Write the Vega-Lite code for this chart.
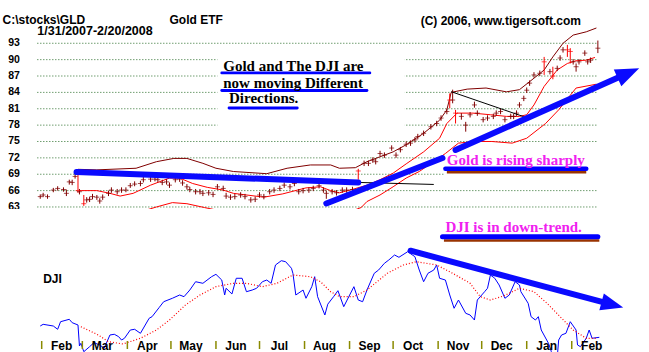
{
"$schema": "https://vega.github.io/schema/vega-lite/v6.json",
"background": "white",
"padding": 0,
"spacing": 0,
"bounds": "flush",
"config": {"view": {"stroke": null}, "font": "Liberation Sans"},
"datasets": {
"grid": [{"level":63},{"level":66},{"level":69},{"level":72},{"level":75},{"level":78},{"level":81},{"level":84},{"level":87},{"level":90},{"level":93}],
"months": [{"start":"2007-02-01","label":"Feb"},{"start":"2007-03-01","label":"Mar"},{"start":"2007-04-01","label":"Apr"},{"start":"2007-05-01","label":"May"},{"start":"2007-06-01","label":"Jun"},{"start":"2007-07-01","label":"Jul"},{"start":"2007-08-01","label":"Aug"},{"start":"2007-09-01","label":"Sep"},{"start":"2007-10-01","label":"Oct"},{"start":"2007-11-01","label":"Nov"},{"start":"2007-12-01","label":"Dec"},{"start":"2008-01-01","label":"Jan"},{"start":"2008-02-01","label":"Feb"}],
"boxes": [{"start":"2007-06-02","end":"2007-10-09","top":90.9,"bottom":77.5},{"start":"2007-11-05","end":"2008-02-19","top":72.8,"bottom":68.5}],
"bands": [
{"band":"upper","date":"2007-02-26","value":69.9},{"band":"upper","date":"2007-03-11","value":69.8},{"band":"upper","date":"2007-04-07","value":70.1},{"band":"upper","date":"2007-04-21","value":71.3},{"band":"upper","date":"2007-05-03","value":71.9},{"band":"upper","date":"2007-05-12","value":71.9},{"band":"upper","date":"2007-05-23","value":71.0},{"band":"upper","date":"2007-06-01","value":70.1},{"band":"upper","date":"2007-06-13","value":69.5},{"band":"upper","date":"2007-07-06","value":69.1},{"band":"upper","date":"2007-07-20","value":70.1},{"band":"upper","date":"2007-08-05","value":70.7},{"band":"upper","date":"2007-08-19","value":70.7},{"band":"upper","date":"2007-08-25","value":70.1},{"band":"upper","date":"2007-09-05","value":70.2},{"band":"upper","date":"2007-09-13","value":71.3},{"band":"upper","date":"2007-09-22","value":72.2},{"band":"upper","date":"2007-10-01","value":73.1},{"band":"upper","date":"2007-10-10","value":74.4},{"band":"upper","date":"2007-10-22","value":76.5},{"band":"upper","date":"2007-11-02","value":78.9},{"band":"upper","date":"2007-11-07","value":80.8},{"band":"upper","date":"2007-11-10","value":84.0},{"band":"upper","date":"2007-11-21","value":84.6},{"band":"upper","date":"2007-12-04","value":84.8},{"band":"upper","date":"2007-12-18","value":84.1},{"band":"upper","date":"2007-12-27","value":84.5},{"band":"upper","date":"2008-01-06","value":86.6},{"band":"upper","date":"2008-01-13","value":88.1},{"band":"upper","date":"2008-01-19","value":90.5},{"band":"upper","date":"2008-01-26","value":93.0},{"band":"upper","date":"2008-02-02","value":94.5},{"band":"upper","date":"2008-02-11","value":95.1},{"band":"upper","date":"2008-02-18","value":95.8},
{"band":"middle","date":"2007-02-27","value":66.0},{"band":"middle","date":"2007-03-11","value":66.0},{"band":"middle","date":"2007-03-20","value":65.5},{"band":"middle","date":"2007-03-27","value":65.0},{"band":"middle","date":"2007-04-05","value":65.5},{"band":"middle","date":"2007-04-17","value":67.0},{"band":"middle","date":"2007-04-30","value":68.3},{"band":"middle","date":"2007-05-07","value":68.3},{"band":"middle","date":"2007-05-16","value":67.3},{"band":"middle","date":"2007-05-26","value":66.6},{"band":"middle","date":"2007-06-06","value":66.1},{"band":"middle","date":"2007-06-13","value":65.5},{"band":"middle","date":"2007-07-04","value":64.8},{"band":"middle","date":"2007-07-17","value":65.4},{"band":"middle","date":"2007-08-02","value":66.5},{"band":"middle","date":"2007-08-12","value":66.7},{"band":"middle","date":"2007-08-19","value":66.0},{"band":"middle","date":"2007-08-25","value":65.6},{"band":"middle","date":"2007-09-04","value":66.3},{"band":"middle","date":"2007-09-13","value":67.0},{"band":"middle","date":"2007-09-22","value":68.0},{"band":"middle","date":"2007-10-01","value":69.2},{"band":"middle","date":"2007-10-10","value":70.9},{"band":"middle","date":"2007-10-22","value":73.1},{"band":"middle","date":"2007-11-02","value":75.6},{"band":"middle","date":"2007-11-07","value":78.3},{"band":"middle","date":"2007-11-14","value":80.2},{"band":"middle","date":"2007-11-25","value":80.2},{"band":"middle","date":"2007-12-07","value":79.9},{"band":"middle","date":"2007-12-18","value":79.6},{"band":"middle","date":"2007-12-27","value":79.6},{"band":"middle","date":"2008-01-01","value":79.9},{"band":"middle","date":"2008-01-06","value":81.7},{"band":"middle","date":"2008-01-13","value":85.1},{"band":"middle","date":"2008-01-22","value":88.1},{"band":"middle","date":"2008-01-29","value":89.3},{"band":"middle","date":"2008-02-04","value":89.8},{"band":"middle","date":"2008-02-11","value":89.9},{"band":"middle","date":"2008-02-17","value":90.4},
{"band":"lower","date":"2007-02-27","value":62.0},{"band":"lower","date":"2007-03-20","value":61.5},{"band":"lower","date":"2007-04-05","value":61.7},{"band":"lower","date":"2007-04-21","value":63.0},{"band":"lower","date":"2007-05-02","value":63.8},{"band":"lower","date":"2007-05-12","value":63.6},{"band":"lower","date":"2007-05-24","value":62.9},{"band":"lower","date":"2007-06-13","value":61.8},{"band":"lower","date":"2007-07-04","value":61.1},{"band":"lower","date":"2007-07-18","value":61.5},{"band":"lower","date":"2007-08-03","value":62.4},{"band":"lower","date":"2007-08-19","value":62.2},{"band":"lower","date":"2007-08-26","value":61.9},{"band":"lower","date":"2007-09-05","value":62.5},{"band":"lower","date":"2007-09-09","value":62.9},{"band":"lower","date":"2007-09-13","value":64.0},{"band":"lower","date":"2007-09-22","value":65.2},{"band":"lower","date":"2007-10-01","value":66.7},{"band":"lower","date":"2007-10-10","value":68.3},{"band":"lower","date":"2007-10-19","value":69.5},{"band":"lower","date":"2007-11-06","value":72.8},{"band":"lower","date":"2007-11-15","value":74.7},{"band":"lower","date":"2007-11-26","value":75.0},{"band":"lower","date":"2007-12-08","value":75.0},{"band":"lower","date":"2007-12-22","value":74.7},{"band":"lower","date":"2008-01-01","value":75.6},{"band":"lower","date":"2008-01-14","value":78.3},{"band":"lower","date":"2008-01-23","value":80.8},{"band":"lower","date":"2008-02-04","value":84.8},{"band":"lower","date":"2008-02-18","value":85.5}
],
"gld": [
{"date":"2007-01-31","high":65.3,"low":64.5,"close":64.9,"flag":0},{"date":"2007-02-02","high":65.6,"low":64.8,"close":65.2,"flag":0},{"date":"2007-02-05","high":65.3,"low":64.5,"close":64.9,"flag":0},{"date":"2007-02-09","high":66.5,"low":65.7,"close":66.1,"flag":0},{"date":"2007-02-12","high":66.8,"low":66.0,"close":66.4,"flag":0},{"date":"2007-02-16","high":66.6,"low":65.8,"close":66.2,"flag":0},{"date":"2007-02-18","high":66.2,"low":65.0,"close":65.5,"flag":0},{"date":"2007-02-20","high":68.0,"low":67.1,"close":67.6,"flag":0},{"date":"2007-02-22","high":68.0,"low":67.0,"close":67.5,"flag":0},{"date":"2007-02-24","high":69.3,"low":68.2,"close":68.6,"flag":0},{"date":"2007-02-26","high":69.9,"low":65.6,"close":66.0,"flag":1},{"date":"2007-02-27","high":66.3,"low":65.3,"close":65.8,"flag":0},
{"date":"2007-03-02","high":65.2,"low":63.2,"close":63.6,"flag":1},{"date":"2007-03-04","high":64.8,"low":63.8,"close":64.3,"flag":0},{"date":"2007-03-06","high":64.9,"low":63.9,"close":64.4,"flag":0},{"date":"2007-03-08","high":65.4,"low":64.4,"close":64.9,"flag":0},{"date":"2007-03-11","high":65.2,"low":64.3,"close":64.8,"flag":0},{"date":"2007-03-13","high":64.6,"low":63.6,"close":64.1,"flag":0},{"date":"2007-03-15","high":65.3,"low":64.3,"close":64.8,"flag":0},{"date":"2007-03-19","high":66.0,"low":65.0,"close":65.5,"flag":0},{"date":"2007-03-21","high":66.6,"low":65.6,"close":66.1,"flag":0},{"date":"2007-03-25","high":66.3,"low":65.3,"close":65.8,"flag":0},{"date":"2007-03-28","high":66.6,"low":65.6,"close":66.1,"flag":0},{"date":"2007-03-31","high":66.6,"low":65.7,"close":66.1,"flag":0},
{"date":"2007-04-03","high":67.4,"low":66.5,"close":66.9,"flag":0},{"date":"2007-04-06","high":67.7,"low":66.8,"close":67.2,"flag":0},{"date":"2007-04-10","high":67.8,"low":66.8,"close":67.3,"flag":0},{"date":"2007-04-12","high":68.5,"low":67.5,"close":68.0,"flag":0},{"date":"2007-04-17","high":68.6,"low":67.6,"close":68.1,"flag":0},{"date":"2007-04-20","high":68.6,"low":67.7,"close":68.1,"flag":0},{"date":"2007-04-22","high":68.5,"low":67.5,"close":68.0,"flag":0},{"date":"2007-04-25","high":68.0,"low":67.0,"close":67.5,"flag":0},{"date":"2007-04-28","high":68.1,"low":67.1,"close":67.6,"flag":0},{"date":"2007-04-30","high":67.5,"low":66.5,"close":67.0,"flag":0},
{"date":"2007-05-04","high":68.5,"low":67.5,"close":68.0,"flag":0},{"date":"2007-05-07","high":68.6,"low":67.6,"close":68.1,"flag":0},{"date":"2007-05-09","high":67.9,"low":66.9,"close":67.4,"flag":0},{"date":"2007-05-12","high":67.2,"low":66.2,"close":66.7,"flag":0},{"date":"2007-05-14","high":66.7,"low":65.7,"close":66.2,"flag":0},{"date":"2007-05-18","high":66.3,"low":65.3,"close":65.8,"flag":0},{"date":"2007-05-21","high":66.3,"low":65.3,"close":65.8,"flag":0},{"date":"2007-05-23","high":66.0,"low":65.0,"close":65.5,"flag":0},{"date":"2007-05-27","high":66.1,"low":65.1,"close":65.6,"flag":0},{"date":"2007-05-30","high":65.8,"low":64.8,"close":65.3,"flag":0},
{"date":"2007-06-02","high":67.2,"low":66.2,"close":66.7,"flag":0},{"date":"2007-06-06","high":66.9,"low":65.9,"close":66.4,"flag":0},{"date":"2007-06-08","high":65.6,"low":64.5,"close":65.0,"flag":0},{"date":"2007-06-11","high":65.3,"low":64.3,"close":64.8,"flag":0},{"date":"2007-06-14","high":65.4,"low":64.4,"close":64.9,"flag":0},{"date":"2007-06-18","high":65.7,"low":64.7,"close":65.2,"flag":0},{"date":"2007-06-21","high":65.4,"low":64.4,"close":64.9,"flag":0},{"date":"2007-06-25","high":64.8,"low":63.8,"close":64.3,"flag":0},{"date":"2007-06-28","high":64.9,"low":63.9,"close":64.4,"flag":0},
{"date":"2007-07-01","high":65.7,"low":64.7,"close":65.2,"flag":0},{"date":"2007-07-04","high":65.4,"low":64.4,"close":64.9,"flag":0},{"date":"2007-07-08","high":66.3,"low":65.3,"close":65.8,"flag":0},{"date":"2007-07-11","high":66.6,"low":65.6,"close":66.1,"flag":0},{"date":"2007-07-15","high":66.9,"low":65.9,"close":66.4,"flag":0},{"date":"2007-07-18","high":67.5,"low":66.5,"close":67.0,"flag":0},{"date":"2007-07-22","high":67.2,"low":66.2,"close":66.7,"flag":0},{"date":"2007-07-25","high":67.8,"low":66.8,"close":67.3,"flag":0},{"date":"2007-07-28","high":66.3,"low":65.3,"close":65.8,"flag":0},{"date":"2007-07-31","high":66.5,"low":65.5,"close":66.0,"flag":0},
{"date":"2007-08-04","high":66.6,"low":65.6,"close":66.1,"flag":0},{"date":"2007-08-07","high":66.9,"low":65.9,"close":66.4,"flag":0},{"date":"2007-08-11","high":67.4,"low":66.4,"close":66.9,"flag":0},{"date":"2007-08-14","high":66.6,"low":65.6,"close":66.1,"flag":0},{"date":"2007-08-16","high":66.0,"low":64.5,"close":65.5,"flag":0},{"date":"2007-08-20","high":66.3,"low":65.3,"close":65.8,"flag":0},{"date":"2007-08-23","high":66.1,"low":65.1,"close":65.6,"flag":0},{"date":"2007-08-27","high":66.6,"low":65.6,"close":66.1,"flag":0},{"date":"2007-08-30","high":66.6,"low":65.6,"close":66.1,"flag":0},
{"date":"2007-09-03","high":66.7,"low":65.7,"close":66.2,"flag":0},{"date":"2007-09-07","high":70.0,"low":68.0,"close":69.6,"flag":1},{"date":"2007-09-11","high":71.5,"low":70.5,"close":71.0,"flag":0},{"date":"2007-09-14","high":71.5,"low":70.5,"close":71.0,"flag":0},{"date":"2007-09-17","high":72.1,"low":71.1,"close":71.6,"flag":0},{"date":"2007-09-19","high":71.8,"low":70.8,"close":71.3,"flag":0},{"date":"2007-09-22","high":73.3,"low":72.3,"close":72.8,"flag":0},{"date":"2007-09-25","high":73.0,"low":72.0,"close":72.5,"flag":0},{"date":"2007-09-30","high":74.3,"low":73.3,"close":73.8,"flag":0},
{"date":"2007-10-03","high":73.0,"low":72.0,"close":72.5,"flag":0},{"date":"2007-10-06","high":74.0,"low":73.0,"close":73.5,"flag":0},{"date":"2007-10-10","high":75.0,"low":74.0,"close":74.5,"flag":0},{"date":"2007-10-13","high":75.2,"low":74.2,"close":74.7,"flag":0},{"date":"2007-10-16","high":75.8,"low":74.8,"close":75.3,"flag":0},{"date":"2007-10-18","high":76.4,"low":75.4,"close":75.9,"flag":0},{"date":"2007-10-22","high":77.0,"low":76.0,"close":76.5,"flag":0},{"date":"2007-10-27","high":78.2,"low":77.2,"close":77.7,"flag":0},{"date":"2007-10-31","high":78.8,"low":77.8,"close":78.3,"flag":0},
{"date":"2007-11-03","high":79.8,"low":78.8,"close":79.3,"flag":0},{"date":"2007-11-07","high":81.0,"low":80.0,"close":80.5,"flag":0},{"date":"2007-11-09","high":83.8,"low":81.1,"close":82.6,"flag":1},{"date":"2007-11-11","high":84.5,"low":82.0,"close":82.6,"flag":0},{"date":"2007-11-13","high":80.8,"low":78.3,"close":80.2,"flag":1},{"date":"2007-11-17","high":80.2,"low":79.0,"close":79.6,"flag":0},{"date":"2007-11-20","high":78.6,"low":76.8,"close":78.0,"flag":0},{"date":"2007-11-23","high":80.4,"low":79.4,"close":79.9,"flag":0},{"date":"2007-11-26","high":82.3,"low":81.2,"close":81.7,"flag":0},{"date":"2007-11-28","high":80.7,"low":79.7,"close":80.2,"flag":0},
{"date":"2007-12-02","high":79.5,"low":78.5,"close":79.0,"flag":0},{"date":"2007-12-05","high":79.8,"low":78.8,"close":79.3,"flag":0},{"date":"2007-12-09","high":80.1,"low":79.1,"close":79.6,"flag":0},{"date":"2007-12-11","high":80.7,"low":79.7,"close":80.2,"flag":0},{"date":"2007-12-14","high":81.0,"low":80.0,"close":80.5,"flag":0},{"date":"2007-12-17","high":79.5,"low":78.5,"close":79.0,"flag":0},{"date":"2007-12-21","high":80.1,"low":79.1,"close":79.6,"flag":0},{"date":"2007-12-23","high":80.1,"low":79.1,"close":79.6,"flag":0},{"date":"2007-12-25","high":80.7,"low":79.7,"close":80.2,"flag":0},{"date":"2007-12-27","high":82.2,"low":81.2,"close":81.7,"flag":0},{"date":"2007-12-30","high":83.4,"low":82.4,"close":82.9,"flag":0},
{"date":"2008-01-01","high":84.9,"low":83.9,"close":84.4,"flag":0},{"date":"2008-01-03","high":86.2,"low":85.2,"close":85.7,"flag":0},{"date":"2008-01-06","high":87.7,"low":86.7,"close":87.2,"flag":0},{"date":"2008-01-10","high":88.0,"low":87.0,"close":87.5,"flag":0},{"date":"2008-01-13","high":90.5,"low":87.2,"close":89.6,"flag":1},{"date":"2008-01-17","high":88.3,"low":87.3,"close":87.8,"flag":0},{"date":"2008-01-19","high":88.7,"low":86.4,"close":87.0,"flag":1},{"date":"2008-01-22","high":88.9,"low":87.9,"close":88.4,"flag":0},{"date":"2008-01-24","high":90.8,"low":89.8,"close":90.3,"flag":0},{"date":"2008-01-26","high":92.3,"low":91.3,"close":91.8,"flag":0},{"date":"2008-01-29","high":92.7,"low":90.5,"close":91.8,"flag":1},{"date":"2008-01-31","high":92.1,"low":89.3,"close":91.5,"flag":1},
{"date":"2008-02-02","high":90.1,"low":89.1,"close":89.6,"flag":0},{"date":"2008-02-04","high":89.3,"low":87.8,"close":88.7,"flag":0},{"date":"2008-02-06","high":90.1,"low":89.1,"close":89.6,"flag":0},{"date":"2008-02-10","high":91.7,"low":90.7,"close":91.2,"flag":0},{"date":"2008-02-12","high":90.1,"low":89.1,"close":89.6,"flag":0},{"date":"2008-02-14","high":90.4,"low":89.4,"close":89.9,"flag":0},{"date":"2008-02-19","high":93.5,"low":91.2,"close":92.1,"flag":0}
],
"underlines": [
{"panel":"top","kind":"text","start":"2007-06-05","end":"2007-09-15","value":87.56},
{"panel":"top","kind":"text","start":"2007-06-05","end":"2007-09-13","value":84.35},
{"panel":"top","kind":"text","start":"2007-06-10","end":"2007-07-27","value":81.14},
{"panel":"top","kind":"shadow","start":"2007-11-07","end":"2008-02-11","value":69.36},
{"panel":"top","kind":"heavy","start":"2007-11-06","end":"2008-02-11","value":70.0},
{"panel":"bottom","kind":"shadow","start":"2007-11-05","end":"2008-02-20","value":14418},
{"panel":"bottom","kind":"heavy","start":"2007-11-04","end":"2008-02-19","value":14495}
],
"trend_top": [
{"id":"flat","date":"2007-02-25","value":69.4},{"id":"flat","date":"2007-09-07","value":67.5},
{"id":"rise1","date":"2007-08-16","value":63.64},{"id":"rise1","date":"2007-11-04","value":71.98},
{"id":"rise2","date":"2007-11-13","value":73.45},{"id":"rise2","date":"2008-03-11","value":87.54}
],
"guide_top": [
{"id":"ext","date":"2007-09-07","value":67.5},{"id":"ext","date":"2007-10-29","value":67.13},
{"id":"wedge","date":"2007-11-10","value":84.13},{"id":"wedge","date":"2007-12-30","value":79.55}
],
"head_top": [{"date":"2008-03-11","value":87.54}],
"trend_bottom": [{"id":"down","date":"2007-10-13","value":14207},{"id":"down","date":"2008-02-29","value":13089}],
"head_bottom": [{"date":"2008-02-29","value":13089}],
"notes": [
{"panel":"top","role":"header","text":"C:\\stocks\\GLD","date":"2007-01-05","value":96.5},
{"panel":"top","role":"header","text":"Gold ETF","date":"2007-04-30","value":96.45},
{"panel":"top","role":"header","text":"(C) 2006, www.tigersoft.com","date":"2007-10-20","value":96.35},
{"panel":"top","role":"range","text":"1/31/2007-2/20/2008","date":"2007-01-29","value":94.45},
{"panel":"top","role":"serif","text":"Gold and The DJI are","date":"2007-06-06","value":87.9},
{"panel":"top","role":"serif","text":"now moving Different","date":"2007-06-06","value":84.75},
{"panel":"top","role":"serif","text":"Directions.","date":"2007-06-10","value":82.0},
{"panel":"top","role":"magenta","text":"Gold is rising sharply","date":"2007-11-07","value":70.7},
{"panel":"bottom","role":"magenta","text":"DJI is in down-trend.","date":"2007-11-06","value":14600},
{"panel":"bottom","role":"header","text":"DJI","date":"2007-02-02","value":13532}
],
"dji": [
{"date":"2007-01-31","close":12648},{"date":"2007-02-02","close":12683},{"date":"2007-02-09","close":12648},{"date":"2007-02-12","close":12580},{"date":"2007-02-14","close":12737},{"date":"2007-02-20","close":12787},{"date":"2007-02-22","close":12717},{"date":"2007-02-26","close":12669},{"date":"2007-02-27","close":12234},{"date":"2007-02-28","close":12290},
{"date":"2007-03-02","close":12116},{"date":"2007-03-06","close":12220},{"date":"2007-03-09","close":12303},{"date":"2007-03-13","close":12255},{"date":"2007-03-16","close":12187},{"date":"2007-03-20","close":12462},{"date":"2007-03-23","close":12477},{"date":"2007-03-26","close":12427},{"date":"2007-03-28","close":12358},{"date":"2007-03-30","close":12394},
{"date":"2007-04-03","close":12565},{"date":"2007-04-06","close":12580},{"date":"2007-04-10","close":12497},{"date":"2007-04-16","close":12808},{"date":"2007-04-18","close":12841},{"date":"2007-04-23","close":13035},{"date":"2007-04-26","close":13151},
{"date":"2007-05-02","close":13222},{"date":"2007-05-07","close":13290},{"date":"2007-05-10","close":13255},{"date":"2007-05-14","close":13393},{"date":"2007-05-18","close":13565},{"date":"2007-05-23","close":13532},{"date":"2007-05-29","close":13669},
{"date":"2007-06-01","close":13718},{"date":"2007-06-05","close":13600},{"date":"2007-06-07","close":13290},{"date":"2007-06-08","close":13429},{"date":"2007-06-12","close":13311},{"date":"2007-06-15","close":13636},{"date":"2007-06-19","close":13636},{"date":"2007-06-22","close":13358},{"date":"2007-06-26","close":13393},{"date":"2007-06-29","close":13429},
{"date":"2007-07-03","close":13565},{"date":"2007-07-06","close":13600},{"date":"2007-07-09","close":13532},{"date":"2007-07-12","close":13911},{"date":"2007-07-16","close":14000},{"date":"2007-07-19","close":13979},{"date":"2007-07-23","close":13843},{"date":"2007-07-24","close":13739},{"date":"2007-07-26","close":13290},{"date":"2007-07-31","close":13393},
{"date":"2007-08-02","close":13222},{"date":"2007-08-06","close":13462},{"date":"2007-08-08","close":13669},{"date":"2007-08-10","close":13255},{"date":"2007-08-15","close":12876},{"date":"2007-08-17","close":13100},{"date":"2007-08-21","close":13255},{"date":"2007-08-24","close":13379},{"date":"2007-08-28","close":13048},
{"date":"2007-09-04","close":13462},{"date":"2007-09-07","close":13186},{"date":"2007-09-10","close":13151},{"date":"2007-09-13","close":13393},{"date":"2007-09-18","close":13739},{"date":"2007-09-21","close":13807},{"date":"2007-09-25","close":13946},{"date":"2007-09-28","close":14014},
{"date":"2007-10-02","close":14118},{"date":"2007-10-05","close":14070},{"date":"2007-10-11","close":14186},{"date":"2007-10-16","close":14083},{"date":"2007-10-19","close":13807},{"date":"2007-10-22","close":13565},{"date":"2007-10-25","close":13739},{"date":"2007-10-29","close":13807},{"date":"2007-10-31","close":13911},
{"date":"2007-11-02","close":13636},{"date":"2007-11-06","close":13600},{"date":"2007-11-09","close":13290},{"date":"2007-11-12","close":13015},{"date":"2007-11-15","close":13186},{"date":"2007-11-20","close":12911},{"date":"2007-11-23","close":12876},{"date":"2007-11-26","close":12772},{"date":"2007-11-28","close":13186},
{"date":"2007-12-03","close":13358},{"date":"2007-12-05","close":13429},{"date":"2007-12-07","close":13704},{"date":"2007-12-10","close":13636},{"date":"2007-12-13","close":13497},{"date":"2007-12-17","close":13222},{"date":"2007-12-20","close":13290},{"date":"2007-12-24","close":13565},{"date":"2007-12-27","close":13497},{"date":"2007-12-28","close":13358},
{"date":"2008-01-02","close":13118},{"date":"2008-01-04","close":12841},{"date":"2008-01-07","close":12772},{"date":"2008-01-09","close":12841},{"date":"2008-01-11","close":12565},{"date":"2008-01-16","close":12290},{"date":"2008-01-18","close":12116},{"date":"2008-01-22","close":11990},{"date":"2008-01-23","close":12358},{"date":"2008-01-25","close":12462},{"date":"2008-01-28","close":12497},{"date":"2008-01-31","close":12737},
{"date":"2008-02-04","close":12565},{"date":"2008-02-05","close":12255},{"date":"2008-02-07","close":12220},{"date":"2008-02-11","close":12394},{"date":"2008-02-13","close":12565},{"date":"2008-02-15","close":12394},{"date":"2008-02-20","close":12414}
],
"dji_ma": [
{"date":"2007-02-28","ma":12634},{"date":"2007-03-12","ma":12462},{"date":"2007-03-19","ma":12323},{"date":"2007-03-29","ma":12276},{"date":"2007-04-10","ma":12394},{"date":"2007-04-21","ma":12565},{"date":"2007-04-30","ma":12772},{"date":"2007-05-11","ma":13083},{"date":"2007-05-21","ma":13290},{"date":"2007-06-01","ma":13462},{"date":"2007-06-13","ma":13532},{"date":"2007-06-22","ma":13532},{"date":"2007-07-03","ma":13462},{"date":"2007-07-13","ma":13532},{"date":"2007-07-24","ma":13704},{"date":"2007-08-05","ma":13669},{"date":"2007-08-12","ma":13565},{"date":"2007-08-19","ma":13358},{"date":"2007-08-25","ma":13255},{"date":"2007-09-04","ma":13255},{"date":"2007-09-13","ma":13393},{"date":"2007-09-27","ma":13739},{"date":"2007-10-08","ma":13911},{"date":"2007-10-17","ma":13979},{"date":"2007-10-31","ma":13911},{"date":"2007-11-11","ma":13739},{"date":"2007-11-23","ma":13532},{"date":"2007-11-30","ma":13255},{"date":"2007-12-07","ma":13186},{"date":"2007-12-16","ma":13269},{"date":"2007-12-27","ma":13429},{"date":"2008-01-06","ma":13358},{"date":"2008-01-15","ma":13118},{"date":"2008-01-24","ma":12841},{"date":"2008-02-02","ma":12565},{"date":"2008-02-11","ma":12394},{"date":"2008-02-18","ma":12394}
]
},
"vconcat": [
{
"width": 649, "height": 209,
"layer": [
{"data": {"name": "grid"},
 "mark": {"type": "rule", "stroke": "#2a6e2a", "strokeDash": [1, 2], "strokeWidth": 1},
 "encoding": {
  "x": {"datum": {"year": 2007, "month": 1, "date": 29, "utc": true}, "type": "temporal", "scale": {"type": "utc", "domain": [{"year": 2007, "month": 1, "date": 3, "hours": 7, "utc": true}, {"year": 2008, "month": 3, "date": 25, "hours": 5, "utc": true}]}, "axis": null},
  "x2": {"datum": {"year": 2008, "month": 2, "date": 18, "utc": true}},
  "y": {"field": "level", "type": "quantitative", "scale": {"domain": [62.63, 100.93], "zero": false, "nice": false}, "axis": null}
 }},
{"data": {"name": "grid"},
 "mark": {"type": "text", "align": "right", "baseline": "middle", "font": "Liberation Sans", "fontWeight": "bold", "fontSize": 10.5, "color": "#000000", "clip": true},
 "encoding": {
  "x": {"datum": {"year": 2007, "month": 1, "date": 17, "utc": true}, "type": "temporal", "scale": {"type": "utc", "domain": [{"year": 2007, "month": 1, "date": 3, "hours": 7, "utc": true}, {"year": 2008, "month": 3, "date": 25, "hours": 5, "utc": true}]}, "axis": null},
  "y": {"field": "level", "type": "quantitative", "scale": {"domain": [62.63, 100.93], "zero": false, "nice": false}, "axis": null},
  "text": {"field": "level", "type": "quantitative"}
 }},
{"data": {"name": "boxes"},
 "mark": {"type": "rect", "fill": "white"},
 "encoding": {
  "x": {"field": "start", "type": "temporal", "scale": {"type": "utc", "domain": [{"year": 2007, "month": 1, "date": 3, "hours": 7, "utc": true}, {"year": 2008, "month": 3, "date": 25, "hours": 5, "utc": true}]}, "axis": null},
  "x2": {"field": "end"},
  "y": {"field": "bottom", "type": "quantitative", "scale": {"domain": [62.63, 100.93], "zero": false, "nice": false}, "axis": null},
  "y2": {"field": "top"}
 }},
{"data": {"name": "bands"},
 "mark": {"type": "line", "strokeWidth": 1, "clip": true},
 "encoding": {
  "x": {"field": "date", "type": "temporal", "scale": {"type": "utc", "domain": [{"year": 2007, "month": 1, "date": 3, "hours": 7, "utc": true}, {"year": 2008, "month": 3, "date": 25, "hours": 5, "utc": true}]}, "axis": null},
  "y": {"field": "value", "type": "quantitative", "scale": {"domain": [62.63, 100.93], "zero": false, "nice": false}, "axis": null},
  "color": {"field": "band", "type": "nominal", "scale": {"domain": ["upper", "middle", "lower"], "range": ["#800000", "#ff0000", "#ff0000"]}, "legend": null}
 }},
{"data": {"name": "gld"},
 "mark": {"type": "rule", "strokeWidth": 1, "clip": true},
 "encoding": {
  "x": {"field": "date", "type": "temporal", "scale": {"type": "utc", "domain": [{"year": 2007, "month": 1, "date": 3, "hours": 7, "utc": true}, {"year": 2008, "month": 3, "date": 25, "hours": 5, "utc": true}]}, "axis": null},
  "y": {"field": "low", "type": "quantitative", "scale": {"domain": [62.63, 100.93], "zero": false, "nice": false}, "axis": null},
  "y2": {"field": "high"},
  "color": {"field": "flag", "type": "nominal", "scale": {"domain": [0, 1], "range": ["#000000", "#ff0000"]}, "legend": null}
 }},
{"data": {"name": "gld"},
 "mark": {"type": "tick", "orient": "horizontal", "size": 5, "thickness": 1, "clip": true},
 "encoding": {
  "x": {"field": "date", "type": "temporal", "scale": {"type": "utc", "domain": [{"year": 2007, "month": 1, "date": 3, "hours": 7, "utc": true}, {"year": 2008, "month": 3, "date": 25, "hours": 5, "utc": true}]}, "axis": null},
  "y": {"field": "close", "type": "quantitative", "scale": {"domain": [62.63, 100.93], "zero": false, "nice": false}, "axis": null},
  "color": {"field": "flag", "type": "nominal", "scale": {"domain": [0, 1], "range": ["#000000", "#ff0000"]}, "legend": null}
 }},
{"data": {"name": "underlines"},
 "transform": [{"filter": "datum.panel == 'top' && datum.kind == 'text'"}],
 "mark": {"type": "rule", "stroke": "#0000ff", "strokeWidth": 2.8, "strokeCap": "round"},
 "encoding": {
  "x": {"field": "start", "type": "temporal", "scale": {"type": "utc", "domain": [{"year": 2007, "month": 1, "date": 3, "hours": 7, "utc": true}, {"year": 2008, "month": 3, "date": 25, "hours": 5, "utc": true}]}, "axis": null},
  "x2": {"field": "end"},
  "y": {"field": "value", "type": "quantitative", "scale": {"domain": [62.63, 100.93], "zero": false, "nice": false}, "axis": null}
 }},
{"data": {"name": "underlines"},
 "transform": [{"filter": "datum.panel == 'top' && datum.kind == 'shadow'"}],
 "mark": {"type": "rule", "stroke": "#993300", "strokeWidth": 2.6},
 "encoding": {
  "x": {"field": "start", "type": "temporal", "scale": {"type": "utc", "domain": [{"year": 2007, "month": 1, "date": 3, "hours": 7, "utc": true}, {"year": 2008, "month": 3, "date": 25, "hours": 5, "utc": true}]}, "axis": null},
  "x2": {"field": "end"},
  "y": {"field": "value", "type": "quantitative", "scale": {"domain": [62.63, 100.93], "zero": false, "nice": false}, "axis": null}
 }},
{"data": {"name": "underlines"},
 "transform": [{"filter": "datum.panel == 'top' && datum.kind == 'heavy'"}],
 "mark": {"type": "rule", "stroke": "#0000ff", "strokeWidth": 4.5, "strokeCap": "round"},
 "encoding": {
  "x": {"field": "start", "type": "temporal", "scale": {"type": "utc", "domain": [{"year": 2007, "month": 1, "date": 3, "hours": 7, "utc": true}, {"year": 2008, "month": 3, "date": 25, "hours": 5, "utc": true}]}, "axis": null},
  "x2": {"field": "end"},
  "y": {"field": "value", "type": "quantitative", "scale": {"domain": [62.63, 100.93], "zero": false, "nice": false}, "axis": null}
 }},
{"data": {"name": "guide_top"},
 "mark": {"type": "line", "stroke": "#000000", "strokeWidth": 1},
 "encoding": {
  "x": {"field": "date", "type": "temporal", "scale": {"type": "utc", "domain": [{"year": 2007, "month": 1, "date": 3, "hours": 7, "utc": true}, {"year": 2008, "month": 3, "date": 25, "hours": 5, "utc": true}]}, "axis": null},
  "y": {"field": "value", "type": "quantitative", "scale": {"domain": [62.63, 100.93], "zero": false, "nice": false}, "axis": null},
  "detail": {"field": "id"}
 }},
{"data": {"name": "trend_top"},
 "mark": {"type": "line", "stroke": "#0a0aff", "strokeWidth": 6, "strokeCap": "round"},
 "encoding": {
  "x": {"field": "date", "type": "temporal", "scale": {"type": "utc", "domain": [{"year": 2007, "month": 1, "date": 3, "hours": 7, "utc": true}, {"year": 2008, "month": 3, "date": 25, "hours": 5, "utc": true}]}, "axis": null},
  "y": {"field": "value", "type": "quantitative", "scale": {"domain": [62.63, 100.93], "zero": false, "nice": false}, "axis": null},
  "detail": {"field": "id"}
 }},
{"data": {"name": "head_top"},
 "mark": {"type": "point", "shape": "M1,0L-1,-0.78L-1,0.78Z", "size": 560, "angle": 336, "filled": true, "fill": "#0a0aff", "stroke": null, "opacity": 1},
 "encoding": {
  "x": {"field": "date", "type": "temporal", "scale": {"type": "utc", "domain": [{"year": 2007, "month": 1, "date": 3, "hours": 7, "utc": true}, {"year": 2008, "month": 3, "date": 25, "hours": 5, "utc": true}]}, "axis": null},
  "y": {"field": "value", "type": "quantitative", "scale": {"domain": [62.63, 100.93], "zero": false, "nice": false}, "axis": null}
 }},
{"data": {"name": "notes"},
 "transform": [{"filter": "datum.panel == 'top' && datum.role == 'header'"}],
 "mark": {"type": "text", "align": "left", "baseline": "alphabetic", "font": "Liberation Sans", "fontWeight": "bold", "fontSize": 12, "color": "#000000"},
 "encoding": {
  "x": {"field": "date", "type": "temporal", "scale": {"type": "utc", "domain": [{"year": 2007, "month": 1, "date": 3, "hours": 7, "utc": true}, {"year": 2008, "month": 3, "date": 25, "hours": 5, "utc": true}]}, "axis": null},
  "y": {"field": "value", "type": "quantitative", "scale": {"domain": [62.63, 100.93], "zero": false, "nice": false}, "axis": null},
  "text": {"field": "text"}
 }},
{"data": {"name": "notes"},
 "transform": [{"filter": "datum.panel == 'top' && datum.role == 'range'"}],
 "mark": {"type": "text", "align": "left", "baseline": "alphabetic", "font": "Liberation Sans", "fontWeight": "bold", "fontSize": 12.5, "color": "#000000"},
 "encoding": {
  "x": {"field": "date", "type": "temporal", "scale": {"type": "utc", "domain": [{"year": 2007, "month": 1, "date": 3, "hours": 7, "utc": true}, {"year": 2008, "month": 3, "date": 25, "hours": 5, "utc": true}]}, "axis": null},
  "y": {"field": "value", "type": "quantitative", "scale": {"domain": [62.63, 100.93], "zero": false, "nice": false}, "axis": null},
  "text": {"field": "text"}
 }},
{"data": {"name": "notes"},
 "transform": [{"filter": "datum.panel == 'top' && datum.role == 'serif'"}],
 "mark": {"type": "text", "align": "left", "baseline": "alphabetic", "font": "Liberation Serif", "fontWeight": "bold", "fontSize": 15, "color": "#000000"},
 "encoding": {
  "x": {"field": "date", "type": "temporal", "scale": {"type": "utc", "domain": [{"year": 2007, "month": 1, "date": 3, "hours": 7, "utc": true}, {"year": 2008, "month": 3, "date": 25, "hours": 5, "utc": true}]}, "axis": null},
  "y": {"field": "value", "type": "quantitative", "scale": {"domain": [62.63, 100.93], "zero": false, "nice": false}, "axis": null},
  "text": {"field": "text"}
 }},
{"data": {"name": "notes"},
 "transform": [{"filter": "datum.panel == 'top' && datum.role == 'magenta'"}],
 "mark": {"type": "text", "align": "left", "baseline": "alphabetic", "font": "Liberation Serif", "fontWeight": "bold", "fontSize": 15, "color": "#f020f0"},
 "encoding": {
  "x": {"field": "date", "type": "temporal", "scale": {"type": "utc", "domain": [{"year": 2007, "month": 1, "date": 3, "hours": 7, "utc": true}, {"year": 2008, "month": 3, "date": 25, "hours": 5, "utc": true}]}, "axis": null},
  "y": {"field": "value", "type": "quantitative", "scale": {"domain": [62.63, 100.93], "zero": false, "nice": false}, "axis": null},
  "text": {"field": "text"}
 }}
]
},
{
"width": 649, "height": 143,
"layer": [
{"data": {"name": "dji"},
 "mark": {"type": "line", "stroke": "#0000ff", "strokeWidth": 1, "clip": true},
 "encoding": {
  "x": {"field": "date", "type": "temporal", "scale": {"type": "utc", "domain": [{"year": 2007, "month": 1, "date": 3, "hours": 7, "utc": true}, {"year": 2008, "month": 3, "date": 25, "hours": 5, "utc": true}]}, "axis": null},
  "y": {"field": "close", "type": "quantitative", "scale": {"domain": [12110, 15070], "zero": false, "nice": false}, "axis": null}
 }},
{"data": {"name": "dji_ma"},
 "mark": {"type": "line", "stroke": "#ff0000", "strokeWidth": 1.2, "strokeDash": [1, 2], "clip": true},
 "encoding": {
  "x": {"field": "date", "type": "temporal", "scale": {"type": "utc", "domain": [{"year": 2007, "month": 1, "date": 3, "hours": 7, "utc": true}, {"year": 2008, "month": 3, "date": 25, "hours": 5, "utc": true}]}, "axis": null},
  "y": {"field": "ma", "type": "quantitative", "scale": {"domain": [12110, 15070], "zero": false, "nice": false}, "axis": null}
 }},
{"data": {"name": "months"},
 "mark": {"type": "rule", "stroke": "#8a8a00", "strokeWidth": 1.5},
 "encoding": {
  "x": {"field": "start", "type": "temporal", "scale": {"type": "utc", "domain": [{"year": 2007, "month": 1, "date": 3, "hours": 7, "utc": true}, {"year": 2008, "month": 3, "date": 25, "hours": 5, "utc": true}]}, "axis": null},
  "y": {"datum": 12338, "type": "quantitative", "scale": {"domain": [12110, 15070], "zero": false, "nice": false}, "axis": null},
  "y2": {"datum": 12172}
 }},
{"data": {"name": "months"},
 "mark": {"type": "text", "align": "center", "baseline": "alphabetic", "dx": 20, "font": "Liberation Sans", "fontWeight": "bold", "fontSize": 12, "color": "#000000"},
 "encoding": {
  "x": {"field": "start", "type": "temporal", "scale": {"type": "utc", "domain": [{"year": 2007, "month": 1, "date": 3, "hours": 7, "utc": true}, {"year": 2008, "month": 3, "date": 25, "hours": 5, "utc": true}]}, "axis": null},
  "y": {"datum": 12151, "type": "quantitative", "scale": {"domain": [12110, 15070], "zero": false, "nice": false}, "axis": null},
  "text": {"field": "label"}
 }},
{"data": {"name": "underlines"},
 "transform": [{"filter": "datum.panel == 'bottom' && datum.kind == 'shadow'"}],
 "mark": {"type": "rule", "stroke": "#993300", "strokeWidth": 2.6},
 "encoding": {
  "x": {"field": "start", "type": "temporal", "scale": {"type": "utc", "domain": [{"year": 2007, "month": 1, "date": 3, "hours": 7, "utc": true}, {"year": 2008, "month": 3, "date": 25, "hours": 5, "utc": true}]}, "axis": null},
  "x2": {"field": "end"},
  "y": {"field": "value", "type": "quantitative", "scale": {"domain": [12110, 15070], "zero": false, "nice": false}, "axis": null}
 }},
{"data": {"name": "underlines"},
 "transform": [{"filter": "datum.panel == 'bottom' && datum.kind == 'heavy'"}],
 "mark": {"type": "rule", "stroke": "#0000ff", "strokeWidth": 5, "strokeCap": "round"},
 "encoding": {
  "x": {"field": "start", "type": "temporal", "scale": {"type": "utc", "domain": [{"year": 2007, "month": 1, "date": 3, "hours": 7, "utc": true}, {"year": 2008, "month": 3, "date": 25, "hours": 5, "utc": true}]}, "axis": null},
  "x2": {"field": "end"},
  "y": {"field": "value", "type": "quantitative", "scale": {"domain": [12110, 15070], "zero": false, "nice": false}, "axis": null}
 }},
{"data": {"name": "trend_bottom"},
 "mark": {"type": "line", "stroke": "#0a0aff", "strokeWidth": 6, "strokeCap": "round"},
 "encoding": {
  "x": {"field": "date", "type": "temporal", "scale": {"type": "utc", "domain": [{"year": 2007, "month": 1, "date": 3, "hours": 7, "utc": true}, {"year": 2008, "month": 3, "date": 25, "hours": 5, "utc": true}]}, "axis": null},
  "y": {"field": "value", "type": "quantitative", "scale": {"domain": [12110, 15070], "zero": false, "nice": false}, "axis": null},
  "detail": {"field": "id"}
 }},
{"data": {"name": "head_bottom"},
 "mark": {"type": "point", "shape": "M1,0L-1,-0.78L-1,0.78Z", "size": 500, "angle": 15, "filled": true, "fill": "#0a0aff", "stroke": null, "opacity": 1},
 "encoding": {
  "x": {"field": "date", "type": "temporal", "scale": {"type": "utc", "domain": [{"year": 2007, "month": 1, "date": 3, "hours": 7, "utc": true}, {"year": 2008, "month": 3, "date": 25, "hours": 5, "utc": true}]}, "axis": null},
  "y": {"field": "value", "type": "quantitative", "scale": {"domain": [12110, 15070], "zero": false, "nice": false}, "axis": null}
 }},
{"data": {"name": "notes"},
 "transform": [{"filter": "datum.panel == 'bottom' && datum.role == 'header'"}],
 "mark": {"type": "text", "align": "left", "baseline": "alphabetic", "font": "Liberation Sans", "fontWeight": "bold", "fontSize": 12, "color": "#000000"},
 "encoding": {
  "x": {"field": "date", "type": "temporal", "scale": {"type": "utc", "domain": [{"year": 2007, "month": 1, "date": 3, "hours": 7, "utc": true}, {"year": 2008, "month": 3, "date": 25, "hours": 5, "utc": true}]}, "axis": null},
  "y": {"field": "value", "type": "quantitative", "scale": {"domain": [12110, 15070], "zero": false, "nice": false}, "axis": null},
  "text": {"field": "text"}
 }},
{"data": {"name": "notes"},
 "transform": [{"filter": "datum.panel == 'bottom' && datum.role == 'magenta'"}],
 "mark": {"type": "text", "align": "left", "baseline": "alphabetic", "font": "Liberation Serif", "fontWeight": "bold", "fontSize": 15, "color": "#f020f0"},
 "encoding": {
  "x": {"field": "date", "type": "temporal", "scale": {"type": "utc", "domain": [{"year": 2007, "month": 1, "date": 3, "hours": 7, "utc": true}, {"year": 2008, "month": 3, "date": 25, "hours": 5, "utc": true}]}, "axis": null},
  "y": {"field": "value", "type": "quantitative", "scale": {"domain": [12110, 15070], "zero": false, "nice": false}, "axis": null},
  "text": {"field": "text"}
 }}
]
}
]
}
